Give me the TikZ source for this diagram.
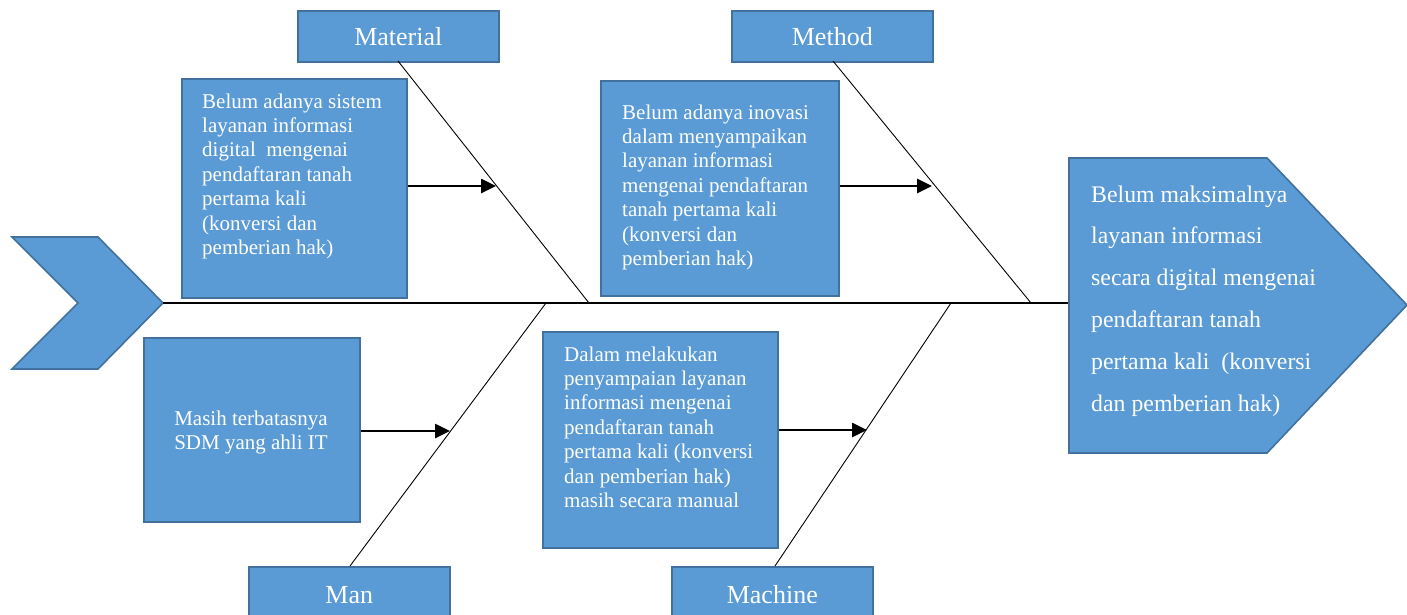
\documentclass[tikz,border=0pt]{standalone}
\usepackage{fontspec}
\setmainfont{Liberation Serif}
\usetikzlibrary{arrows.meta}
\definecolor{boxfill}{HTML}{5B9BD5}
\definecolor{boxline}{HTML}{41719C}
\begin{document}
\begin{tikzpicture}[x=1pt,y=-1pt,
  box/.style={draw=boxline, fill=boxfill, line width=1.6pt, inner sep=0pt, anchor=north west},
  lbl/.style={box, text=white, font=\fontsize{26}{30}\selectfont, minimum width=201pt, minimum height=51pt},
  txt/.style={text=white, font=\fontsize{21}{24.4}\selectfont, align=left, inner sep=0pt, anchor=base west},
  headtxt/.style={text=white, font=\fontsize{23.8}{41.8}\selectfont, align=left, inner sep=0pt, anchor=base west},
  bone/.style={draw=black, line width=0.9pt},
  spine/.style={draw=black, line width=1.3pt},
  arr/.style={draw=black, line width=2.6pt, -{Triangle[length=15pt,width=14pt]}}]
\useasboundingbox (0,0) rectangle (1407,614);
\clip (0,0) rectangle (1407,614);

% tail and head
\draw[box] (12,237) -- (98,237) -- (163,303) -- (98,369) -- (12,369) -- (78,303) -- cycle;
\coordinate (tail) at (163,303);
\draw[box] (1069,158) -- (1267,158) -- (1407,305) -- (1267,453) -- (1069,453) -- cycle;
\coordinate (head) at (1068,303);
% anchor base = baseline of the last line
\node[headtxt] (effect) at (1091,411) {Belum maksimalnya\\layanan informasi\\secara digital mengenai\\pendaftaran tanah\\pertama kali \ (konversi\\dan pemberian hak)};

% spine
\draw[spine] (tail) -- (head);

% category labels
\node[lbl] (material) at (297,10) {Material};
\node[lbl] (method) at (731,10) {Method};
\node[lbl, minimum height=56pt] (man) at (248,566) {Man};
\node[lbl, minimum height=56pt] (machine) at (671,566) {Machine};

% junctions
\coordinate (j1) at (589,303);
\coordinate (j2) at (1031,303);
\coordinate (j3) at (546,303);
\coordinate (j4) at (951,303);
\draw[bone] (398,61) -- (j1);
\draw[bone] (833,61) -- (j2);
\draw[bone] (350,566) -- (j3);
\draw[bone] (775,566) -- (j4);

% cause boxes
\node[box, minimum width=225pt, minimum height=219pt] (c1) at (181,78) {};
\node[txt] (t1) at (202,254.4) {Belum adanya sistem\\layanan informasi\\digital \ mengenai\\pendaftaran tanah\\pertama kali\\(konversi dan\\pemberian hak)};
\node[box, minimum width=238pt, minimum height=215pt] (c2) at (600,80) {};
\node[txt] (t2) at (622,265.4) {Belum adanya inovasi\\dalam menyampaikan\\layanan informasi\\mengenai pendaftaran\\tanah pertama kali\\(konversi dan\\pemberian hak)};
\node[box, minimum width=216pt, minimum height=184pt] (c3) at (143,337) {};
\node[txt, align=center, anchor=base] (t3) at (251,449.4) {Masih terbatasnya\\SDM yang ahli IT};
\node[box, minimum width=235pt, minimum height=216pt] (c4) at (542,331) {};
\node[txt] (t4) at (564,507.4) {Dalam melakukan\\penyampaian layanan\\informasi mengenai\\pendaftaran tanah\\pertama kali (konversi\\dan pemberian hak)\\masih secara manual};

% arrows
\coordinate (a1) at (496,186);
\coordinate (a2) at (932,186);
\coordinate (a3) at (450,431);
\coordinate (a4) at (867,430);
\draw[arr] (c1.east |- a1) -- (a1);
\draw[arr] (c2.east |- a2) -- (a2);
\draw[arr] (c3.east |- a3) -- (a3);
\draw[arr] (c4.east |- a4) -- (a4);
\end{tikzpicture}
\end{document}
